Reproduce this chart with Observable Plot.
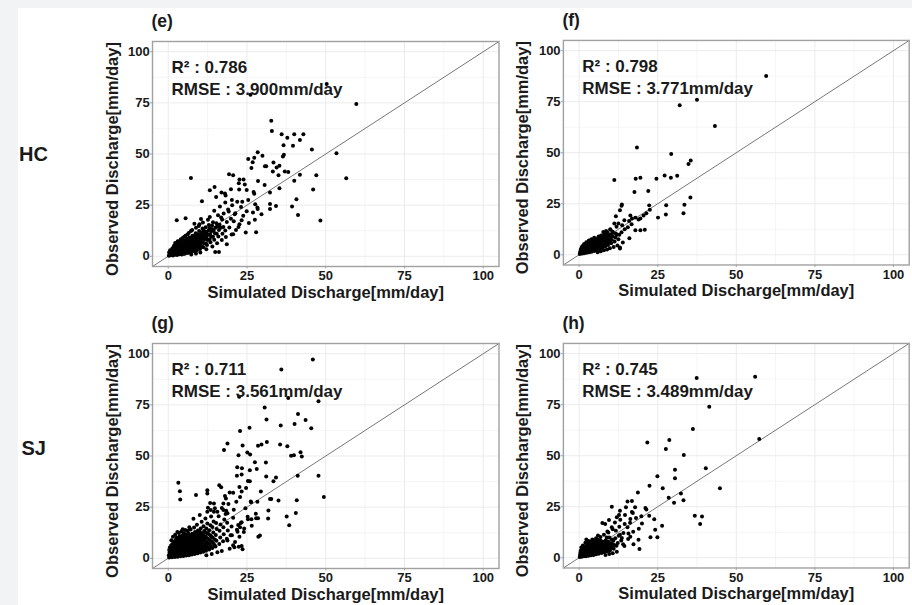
<!DOCTYPE html>
<html><head><meta charset="utf-8">
<script src="https://cdn.jsdelivr.net/npm/d3@7"></script>
<script src="https://cdn.jsdelivr.net/npm/@observablehq/plot@0.6"></script>
<style>
html,body{margin:0;padding:0;background:#fff;width:912px;height:605px;overflow:hidden;font-family:"Liberation Sans",Arial,Helvetica,sans-serif;}
#page{position:relative;width:912px;height:605px;overflow:hidden;}
.strip-top{position:absolute;left:0;top:0;width:912px;height:8px;background:#f2f3f5;}
.strip-left{position:absolute;left:0;top:0;width:18px;height:605px;background:#f2f3f5;}
.row{position:absolute;font-weight:bold;font-size:20px;line-height:20px;color:#1a1a1a;white-space:nowrap;}
.panel{position:absolute;}
.panel g[aria-label$="tick label"], .panel g[aria-label$="tick label"] text{font-size:13px !important;font-weight:700 !important;font-family:"Liberation Sans",Arial,Helvetica,sans-serif !important;}
</style></head>
<body><div id="page"><div class="strip-top"></div><div class="strip-left"></div></div>
<script>
// ---------- data ----------
const rowNames = ["HC", "SJ"];
const panelNames = ["(e)", "(f)", "(g)", "(h)"];
const r2Values = ["0.786", "0.798", "0.711", "0.745"];
const rmseValues = ["3.900", "3.771", "3.561", "3.489"];
const xTitle = "Simulated Discharge[mm/day]";
const yTitle = "Observed Discharge[mm/day]";
const axisLimits = [-5, 105];
const majorTicks = [0, 25, 50, 75, 100];
const minorTicks = [12.5, 37.5, 62.5, 87.5];

// [simulated, observed] (mm/day)
const ePoints = [
[0.2,0.3],[0.4,1.1],[0.3,2.0],[0.6,3.0],[0.8,0.5],[1.0,1.6],[1.1,2.6],[1.3,3.8],[1.5,0.4],[1.6,1.2],[1.8,2.2],[1.7,4.6],[2.1,0.8],[2.2,1.8],[2.4,3.0],[2.3,4.2],[2.5,5.6],[2.8,0.6],[2.9,1.5],[3.0,2.6],[3.2,3.6],[3.1,4.9],[3.3,6.2],[3.6,1.0],[3.7,2.1],[3.8,3.2],[3.9,4.4],[4.0,5.5],[4.1,6.8],[4.3,0.9],[4.5,1.8],[4.6,2.9],[4.7,4.0],[4.8,5.2],[4.9,6.4],[5.0,7.6],[5.3,1.3],[5.4,2.4],[5.5,3.5],[5.6,4.7],[5.7,5.9],[5.8,7.1],[5.9,8.5],[6.2,1.6],[6.3,2.8],[6.4,4.0],[6.5,5.3],[6.6,6.5],[6.7,7.8],[6.8,9.2],[7.1,2.0],[7.2,3.3],[7.3,4.6],[7.4,5.8],[7.5,7.1],[7.6,8.4],[7.7,10.0],[8.1,2.4],[8.2,3.8],[8.3,5.2],[8.4,6.6],[8.5,8.0],[8.6,9.4],[8.7,11.2],[9.1,3.0],[9.2,4.5],[9.3,6.0],[9.4,7.5],[9.5,9.0],[9.6,10.6],[9.8,12.3],[10.1,3.6],[10.3,5.2],[10.4,6.8],[10.5,8.5],[10.6,10.2],[10.8,11.8],[10.9,13.6],[11.2,4.4],[11.4,6.4],[11.5,8.3],[11.6,10.1],[11.8,12.0],[11.9,14.2],[12.3,5.5],[12.5,7.9],[12.6,10.4],[12.8,12.7],[12.9,15.3],[13.4,6.8],[13.6,9.6],[13.8,12.3],[13.9,15.0],[14.2,16.6],[14.6,8.1],[14.8,11.2],[15.0,13.9],[15.3,16.2],[15.9,9.7],[16.1,12.8],[16.3,15.4],[17.2,11.0],[17.5,14.3],[18.1,12.6],[18.6,16.8],[19.4,14.1],[19.9,18.3],[16.8,18.9],[13.2,19.2],[11.0,16.5],[12.1,3.4],[10.2,1.8],[8.8,1.3],[7.3,0.9],[14.0,4.8],[15.5,6.4],[17.0,7.9],[18.3,9.4],[20.1,10.7],[21.5,12.9],[22.6,15.6],[20.8,17.1],[23.8,19.8],[24.9,22.0],[21.3,21.0],[19.0,22.9],[17.6,20.9],[25.6,16.3],[26.9,21.4],[28.4,23.1],[27.5,17.9],[29.6,20.5],[23.1,24.1],[16.4,24.3],[14.6,22.2],[18.1,26.3],[20.3,25.0],[12.6,17.8],[9.7,14.8],[7.2,12.4],[6.1,10.7],[5.1,9.6],[4.0,8.3],[3.0,7.4],[2.2,6.5],[8.3,15.9],[10.4,18.2],[13.9,13.2],[17.1,18.0],[15.8,20.0],
[0.7,1.9],[1.2,0.9],[1.4,3.1],[2.0,2.5],[2.6,1.2],[2.7,3.6],[3.4,2.9],[3.5,4.2],[3.4,1.6],[4.2,2.3],[4.4,3.5],[4.4,4.8],[4.5,6.1],[5.0,1.2],[5.1,3.0],[5.2,4.1],[5.3,5.4],[5.4,6.6],[5.9,2.0],[6.0,3.2],[6.1,4.4],[6.1,5.7],[6.2,7.0],[6.3,8.3],[6.8,2.5],[6.9,3.8],[7.0,5.0],[7.0,6.2],[7.1,7.6],[7.2,8.9],[7.7,3.0],[7.8,4.2],[7.9,5.5],[8.0,6.9],[8.1,8.3],[8.2,9.7],[8.6,3.3],[8.8,4.8],[8.9,6.3],[9.0,7.8],[9.1,9.3],[9.0,10.9],[9.7,4.0],[9.9,5.6],[10.0,7.2],[10.1,8.9],[10.2,10.6],[10.7,4.8],[10.9,6.9],[11.0,8.8],[11.1,10.7],[11.3,12.5],[12.0,6.3],[12.1,9.0],[12.2,11.4],[13.1,8.2],[13.3,10.9],[13.2,13.8],[14.2,9.6],[14.4,12.6],[15.4,11.0],[15.6,14.6],[16.7,13.9],[1.9,5.3],[2.9,6.9],[3.8,7.7],[4.6,8.9],[5.5,10.0],[6.5,11.4],[7.6,12.9],[8.8,13.9],[9.9,15.7],
[59.7,74.4],[32.7,66.2],[32.9,61.3],[36.0,59.6],[40.0,59.6],[42.9,59.6],[37.8,57.9],[41.8,56.8],[36.6,54.3],[39.6,54.0],[45.6,52.2],[53.4,50.4],[28.4,50.9],[36.7,49.6],[36.4,48.8],[29.9,49.1],[25.4,47.6],[27.3,48.2],[26.8,46.0],[26.4,43.1],[30.7,44.0],[31.1,44.0],[33.4,45.9],[34.4,43.4],[35.3,44.3],[33.2,41.4],[37.0,41.5],[38.1,41.2],[40.0,36.9],[41.8,39.8],[47.0,39.6],[56.5,38.2],[35.0,39.6],[7.2,38.3],[19.3,40.1],[20.6,39.6],[22.6,37.5],[23.9,37.5],[22.4,35.7],[24.3,35.1],[28.5,36.8],[30.6,34.9],[35.3,33.3],[46.0,32.6],[32.3,31.2],[27.1,31.4],[27.3,30.6],[14.7,33.9],[13.2,32.3],[16.9,31.2],[18.0,30.7],[19.9,32.8],[22.5,32.6],[24.9,32.4],[10.7,26.9],[15.2,29.0],[18.2,29.7],[20.2,27.5],[21.9,26.7],[23.5,26.7],[25.4,27.5],[40.7,27.9],[32.3,25.6],[34.2,24.6],[39.3,24.3],[27.6,25.4],[28.3,23.9],[32.3,23.1],[41.2,20.2],[48.3,17.5],[27.9,11.7],[2.7,17.6],[5.5,18.6],[18.6,5.9],[16.1,2.1],[14.9,2.1],[20.6,10.8],[24.6,11.6],[22.3,14.3],[23.3,17.6],[19.2,21.9],[21.1,20.6],[26.1,79.0],[50.3,84.2]
];
const fPoints = [
[0.2,0.4],[0.3,1.3],[0.5,2.3],[0.7,3.2],[0.9,0.6],[1.0,1.6],[1.2,2.6],[1.3,3.7],[1.4,4.6],[1.6,0.8],[1.7,1.9],[1.9,2.9],[2.0,4.0],[2.1,5.1],[2.4,1.0],[2.5,2.0],[2.6,3.1],[2.7,4.2],[2.9,5.4],[3.0,6.3],[3.2,1.2],[3.3,2.3],[3.4,3.4],[3.5,4.5],[3.6,5.7],[3.7,6.8],[4.0,1.5],[4.1,2.6],[4.2,3.7],[4.3,4.8],[4.4,6.0],[4.5,7.2],[4.8,1.9],[4.9,3.0],[5.0,4.1],[5.1,5.3],[5.2,6.5],[5.3,7.7],[5.6,2.3],[5.7,3.4],[5.8,4.6],[5.9,5.8],[6.0,7.0],[6.1,8.2],[6.5,2.8],[6.6,4.0],[6.7,5.2],[6.8,6.4],[6.9,7.6],[7.4,3.3],[7.5,4.6],[7.6,5.9],[7.7,7.2],[7.8,8.6],[8.3,4.1],[8.4,5.5],[8.5,6.9],[8.6,8.4],[8.8,9.8],[9.2,4.8],[9.4,6.4],[9.5,8.0],[9.7,9.6],[10.2,5.6],[10.4,7.3],[10.6,9.1],[10.8,10.8],[11.3,6.5],[11.5,8.5],[11.7,10.4],[12.2,4.5],[12.5,7.6],[13.0,3.1],[12.8,9.8],[11.0,3.8],[9.8,3.2],[8.9,2.6],[7.9,2.2],[6.9,1.7],[5.9,1.2],[9.0,11.0],[10.0,12.2],[8.0,10.3],[7.0,9.4],[6.2,9.0],[13.5,11.0],[14.5,12.5],[15.5,13.5],[16.7,15.0],[13.9,6.0],
[0.6,1.8],[1.1,1.1],[1.3,2.2],[1.5,3.3],[2.0,1.5],[2.2,2.5],[2.3,3.5],[2.4,4.7],[2.8,1.5],[3.0,2.8],[3.1,3.9],[3.2,5.0],[3.6,1.8],[3.8,3.0],[3.9,4.1],[4.0,5.2],[4.0,6.4],[4.5,2.3],[4.6,3.4],[4.7,4.5],[4.8,5.7],[4.8,6.8],[5.3,2.6],[5.4,3.8],[5.5,5.0],[5.6,6.2],[5.6,7.3],[6.2,3.1],[6.3,4.3],[6.3,5.5],[6.4,6.8],[6.5,8.0],[7.0,3.8],[7.1,5.1],[7.2,6.4],[7.3,7.8],[7.9,4.7],[8.0,6.1],[8.1,7.6],[8.2,9.0],[8.9,5.7],[9.0,7.2],[9.1,8.8],[9.8,6.8],[10.0,8.4],[10.1,10.1],[1.0,4.2],[1.6,5.3],[2.3,6.1],[3.1,7.0],[3.9,7.6],[4.8,8.3],
[59.5,87.6],[37.5,75.9],[32.0,73.3],[43.2,63.1],[18.4,52.6],[29.3,49.4],[35.5,46.2],[34.8,44.5],[11.2,36.6],[18.0,37.2],[19.5,37.7],[24.6,37.2],[27.2,38.8],[29.2,37.7],[31.2,38.7],[17.6,30.7],[22.0,31.2],[35.4,28.1],[11.7,18.9],[13.0,21.8],[13.5,24.0],[13.6,24.6],[22.3,24.2],[22.5,22.1],[27.7,24.3],[33.5,24.5],[33.2,20.3],[27.6,19.7],[25.1,18.2],[20.5,19.2],[19.5,17.8],[18.9,17.3],[16.3,19.3],[16.8,17.8],[15.9,16.5],[17.9,18.2],[14.4,16.9],[21.4,20.3],[17.9,12.0],[19.5,12.0],[20.9,12.3],[16.0,8.1],[13.0,3.6],[11.9,9.7],[10.7,11.3],[13.7,14.5],[12.5,15.3],[11.9,13.7],[9.9,12.5],[8.6,11.7],[7.7,11.2],[11.2,15.3]
];
const gPoints = [
[0.3,0.4],[0.2,1.5],[0.4,2.7],[0.3,4.0],[0.5,5.3],[1.2,0.5],[1.1,1.8],[1.3,3.1],[1.2,4.4],[1.4,5.8],[1.3,7.0],[2.1,0.6],[2.0,2.0],[2.2,3.4],[2.1,4.8],[2.3,6.2],[2.2,7.6],[2.4,9.0],[3.0,0.8],[3.1,2.2],[2.9,3.6],[3.2,5.0],[3.0,6.5],[3.3,7.9],[3.1,9.5],[3.9,1.0],[4.0,2.4],[3.8,3.9],[4.1,5.4],[3.9,6.8],[4.2,8.3],[4.0,10.0],[4.8,1.1],[4.9,2.6],[4.7,4.1],[5.0,5.6],[4.8,7.2],[5.1,8.7],[4.9,10.4],[5.0,12.2],[5.7,1.3],[5.8,2.9],[5.6,4.4],[5.9,6.0],[5.7,7.6],[6.0,9.2],[5.8,10.9],[6.6,1.5],[6.7,3.1],[6.5,4.7],[6.8,6.3],[6.6,8.0],[6.9,9.7],[6.7,11.5],[7.5,1.8],[7.6,3.4],[7.4,5.0],[7.7,6.7],[7.5,8.4],[7.8,10.1],[7.6,12.0],[8.4,2.1],[8.5,3.8],[8.3,5.5],[8.6,7.2],[8.4,9.0],[8.7,10.8],[8.5,12.8],[9.3,2.4],[9.4,4.2],[9.2,6.0],[9.5,7.8],[9.3,9.6],[9.6,11.5],[9.4,13.6],[10.2,2.8],[10.3,4.7],[10.1,6.6],[10.4,8.5],[10.2,10.4],[10.5,12.3],[10.3,14.5],[11.1,3.2],[11.2,5.2],[11.0,7.2],[11.3,9.2],[11.1,11.2],[11.4,13.3],[11.2,15.6],[12.0,3.7],[12.1,5.8],[12.2,8.0],[12.0,10.1],[12.3,12.3],[12.1,14.6],[12.4,17.0],[13.0,4.3],[13.2,6.6],[13.1,9.0],[13.3,11.3],[13.0,13.7],[13.4,16.2],[14.0,5.0],[14.2,7.5],[14.1,10.1],[14.3,12.6],[14.0,15.3],[14.4,18.0],[15.0,5.8],[15.3,8.6],[15.1,11.4],[15.4,14.3],[15.2,17.2],[16.2,7.0],[16.5,10.2],[16.3,13.4],[16.6,16.5],[17.4,8.3],[17.6,11.8],[17.5,15.2],[17.8,18.9],[18.6,9.6],[18.9,13.6],[18.7,17.4],[19.8,11.2],[20.1,15.5],[16.0,20.5],[18.2,21.7],[20.6,19.8],[19.5,4.6],[17.0,3.6],[15.6,2.9],[13.8,2.1],[12.1,1.5],[21.2,8.0],[22.6,10.5],[24.0,12.8],[21.8,13.9],[23.3,17.6],[25.2,20.3],[26.5,15.9],[27.8,21.8],[20.8,23.7],[19.1,26.5],[17.0,24.6],[15.6,22.8],[13.6,20.4],[11.8,19.5],[10.6,17.9],[9.1,16.4],[8.2,15.0],[7.1,14.1],[6.2,13.4],[4.6,14.2],[2.9,12.8],[10.0,21.2],[12.6,24.7],[8.0,19.3],[24.5,24.4],[26.2,27.8],[18.0,30.5],[13.3,27.0],
[0.7,1.0],[0.8,2.2],[0.7,3.4],[0.8,4.6],[0.9,6.2],[1.6,1.2],[1.7,2.6],[1.6,3.8],[1.8,5.2],[1.7,6.5],[1.9,8.2],[2.5,1.3],[2.6,2.8],[2.5,4.2],[2.7,5.6],[2.6,7.0],[2.8,8.4],[2.7,10.2],[3.5,1.6],[3.5,3.0],[3.4,4.4],[3.6,5.9],[3.5,7.3],[3.7,8.8],[3.6,10.8],[4.4,1.8],[4.4,3.3],[4.3,4.8],[4.5,6.3],[4.4,7.8],[4.6,9.4],[4.5,11.3],[5.3,1.9],[5.3,3.5],[5.2,5.0],[5.4,6.6],[5.3,8.1],[5.5,9.8],[5.4,11.6],[6.2,2.2],[6.2,3.8],[6.1,5.4],[6.3,7.0],[6.2,8.6],[6.4,10.3],[6.3,12.2],[7.1,2.6],[7.1,4.2],[7.0,5.8],[7.2,7.5],[7.1,9.1],[7.3,10.9],[8.0,2.9],[8.0,4.6],[7.9,6.3],[8.1,8.0],[8.0,9.7],[8.2,11.6],[8.9,3.2],[8.9,5.0],[8.8,6.8],[9.0,8.6],[8.9,10.4],[9.1,12.2],[9.8,3.6],[9.8,5.5],[9.7,7.3],[9.9,9.2],[9.8,11.0],[10.0,13.0],[10.7,4.0],[10.8,6.0],[10.6,7.9],[10.8,9.9],[10.7,11.9],[11.6,4.6],[11.7,6.6],[11.5,8.6],[11.8,10.7],[11.6,12.8],[12.6,5.2],[12.7,7.3],[12.6,9.6],[12.8,11.9],[13.6,5.8],[13.7,8.3],[13.6,10.8],[14.7,6.5],[14.8,9.2],[1.0,8.8],[1.5,10.5],[2.2,11.5],[3.4,12.3],[4.2,13.2],[5.4,13.8],[6.7,15.2],
[45.9,97.2],[35.9,92.3],[47.7,76.8],[38.1,78.4],[22.5,79.0],[30.6,73.7],[31.2,67.9],[41.2,70.5],[43.6,67.6],[40.1,65.6],[45.4,63.6],[35.7,64.9],[25.8,63.8],[22.8,62.2],[18.8,56.1],[17.7,52.9],[23.6,55.1],[28.5,55.0],[29.6,55.6],[31.3,56.9],[35.5,55.6],[37.8,54.8],[25.1,51.7],[26.0,50.7],[22.3,50.4],[27.5,47.0],[31.0,46.8],[39.0,50.1],[39.9,50.4],[42.0,51.8],[42.4,49.7],[47.7,40.3],[41.1,40.3],[49.4,29.9],[21.9,44.5],[23.4,44.0],[21.8,40.3],[23.3,40.9],[25.9,43.0],[28.1,43.6],[25.9,37.7],[25.3,37.8],[34.2,39.5],[33.4,37.7],[31.1,40.0],[29.4,32.7],[32.3,29.0],[32.7,29.0],[35.0,28.3],[40.8,28.4],[28.3,27.6],[26.3,27.4],[24.7,34.4],[22.6,34.8],[23.3,32.7],[22.8,30.0],[19.5,32.1],[20.6,32.0],[18.3,29.2],[21.6,27.6],[3.2,36.9],[3.7,32.8],[3.8,28.7],[8.8,30.9],[12.4,33.2],[12.4,31.7],[16.2,35.7],[16.8,34.7],[14.5,26.8],[14.8,24.4],[14.5,22.8],[13.5,23.6],[12.4,22.8],[17.5,26.8],[17.5,23.6],[18.4,23.2],[18.8,22.0],[31.8,23.4],[28.5,19.6],[27.9,19.6],[26.4,19.1],[25.3,19.1],[23.0,17.3],[22.8,15.2],[24.1,14.6],[37.6,20.4],[38.4,16.2],[40.5,22.1],[31.7,19.4],[28.6,10.5],[29.1,11.1],[20.6,6.4],[21.0,5.4],[22.4,5.6],[23.3,6.0],[23.6,4.4],[18.8,8.7],[20.2,11.3],[22.0,13.0],[22.2,16.3]
];
const hPoints = [
[0.2,0.4],[0.3,1.4],[0.4,2.5],[0.5,3.5],[0.8,0.5],[0.9,1.6],[1.0,2.7],[1.1,3.8],[1.2,4.8],[1.5,0.7],[1.6,1.8],[1.7,2.9],[1.8,4.0],[1.9,5.1],[2.2,0.8],[2.3,2.0],[2.4,3.1],[2.5,4.2],[2.6,5.4],[2.7,6.5],[3.0,1.0],[3.1,2.2],[3.2,3.3],[3.3,4.5],[3.4,5.7],[3.5,6.9],[3.8,1.2],[3.9,2.4],[4.0,3.6],[4.1,4.8],[4.2,6.0],[4.3,7.3],[4.6,1.4],[4.7,2.6],[4.8,3.9],[4.9,5.1],[5.0,6.4],[5.1,7.7],[5.4,1.7],[5.5,2.9],[5.6,4.2],[5.7,5.5],[5.8,6.8],[5.9,8.1],[6.2,2.0],[6.3,3.3],[6.4,4.6],[6.5,5.9],[6.6,7.2],[6.7,8.6],[7.1,2.3],[7.2,3.7],[7.3,5.0],[7.4,6.4],[7.5,7.8],[8.0,2.7],[8.1,4.1],[8.2,5.5],[8.3,7.0],[8.4,8.5],[8.9,3.1],[9.0,4.6],[9.1,6.2],[9.3,7.8],[9.8,3.6],[10.0,5.3],[10.2,7.0],[10.4,8.9],[11.0,4.4],[11.2,6.3],[11.5,9.6],[12.3,7.2],[12.6,10.8],[13.4,8.5],[2.0,7.4],[1.2,6.0],[3.0,8.2],[4.2,9.0],[5.4,9.6],[6.8,10.2],[7.9,11.3],[9.0,12.9],[11.7,13.3],[10.4,15.0],[12.8,15.2],[14.5,16.5],[13.1,18.6],[16.3,19.0],[18.1,19.5],[20.0,16.8],[19.0,14.2],[17.2,12.8],[15.6,9.2],[14.0,6.6],[12.0,3.0],[10.7,2.2],[9.6,1.8],[8.4,1.3],[16.8,22.4],[6.0,10.9],[8.8,9.9],[2.3,8.9],
[0.6,0.9],[0.7,2.0],[0.8,3.0],[0.9,4.2],[1.2,1.1],[1.3,2.2],[1.4,3.3],[1.5,4.4],[1.9,1.3],[2.0,2.4],[2.1,3.5],[2.2,4.6],[2.3,5.8],[2.6,1.4],[2.7,2.6],[2.8,3.7],[2.9,4.9],[3.0,6.0],[3.4,1.6],[3.5,2.8],[3.6,3.9],[3.7,5.1],[3.8,6.3],[4.2,1.8],[4.3,3.0],[4.4,4.2],[4.5,5.4],[4.6,6.7],[5.0,2.1],[5.1,3.3],[5.2,4.6],[5.3,5.8],[5.4,7.1],[5.8,2.4],[5.9,3.7],[6.0,5.0],[6.1,6.3],[6.2,7.6],[6.6,2.8],[6.7,4.1],[6.8,5.4],[6.9,6.8],[7.0,8.1],[7.5,3.2],[7.6,4.5],[7.7,5.9],[7.8,7.3],[8.5,3.5],[8.6,4.9],[8.7,6.3],[8.8,7.8],[9.4,4.0],[9.5,5.6],[9.7,7.2],[10.5,4.8],[10.7,6.5],[0.7,5.0],[1.5,5.5],[2.5,7.0],[3.6,7.8],[4.7,8.4],[5.8,9.0],
[56.0,88.7],[37.4,88.1],[41.4,74.0],[36.2,63.1],[57.3,58.2],[21.7,56.5],[28.7,57.7],[27.6,53.3],[33.3,50.3],[30.5,43.1],[30.5,38.9],[40.3,43.8],[24.9,39.9],[22.4,35.3],[44.8,34.0],[26.6,34.0],[18.7,32.0],[32.4,31.5],[28.5,29.4],[33.2,28.2],[30.2,26.9],[15.4,27.6],[16.8,27.8],[14.9,24.7],[17.8,24.7],[10.4,25.0],[21.1,24.4],[21.4,23.6],[17.1,21.9],[14.6,21.0],[12.7,21.0],[19.8,20.4],[22.3,20.6],[36.8,20.6],[39.1,20.2],[38.5,16.5],[23.9,18.9],[26.4,15.7],[24.2,13.7],[22.7,10.0],[24.9,10.0],[19.2,4.3],[16.3,10.3],[18.9,8.8],[17.3,6.6],[14.4,5.8],[15.4,14.9],[15.7,11.9],[14.1,12.1],[13.0,11.3],[13.6,9.7],[10.7,14.0],[9.3,12.4],[9.6,9.9],[7.4,17.0],[8.3,16.6],[9.5,18.5],[11.4,17.3],[12.0,19.8],[13.0,23.0],[16.2,17.1],[10.9,8.3],[11.9,5.9],[9.9,5.1]
];
const panelPoints = [ePoints, fPoints, gPoints, hPoints];

// ---------- layout ----------
const FONT = '"Liberation Sans", Arial, Helvetica, sans-serif';
const INK = "#1a1a1a";
const BOX_W = 346.5, BOX_H = 225;
const M = {left: 62, top: 36, right: 3, bottom: 40};
const boxOrigins = [[151.7, 40.7], [563.3, 39.5], [151.7, 343.3], [563.3, 342.5]];
const rowLabelPos = [[19, 143.5], [21.5, 437.8]];

function panel(points, name, r2, rmse) {
  return Plot.plot({
    width: M.left + BOX_W + M.right,
    height: M.top + BOX_H + M.bottom,
    marginLeft: M.left, marginTop: M.top, marginRight: M.right, marginBottom: M.bottom,
    x: {domain: axisLimits, axis: null},
    y: {domain: axisLimits, axis: null},
    style: {fontFamily: FONT, fontSize: "13px", fontWeight: "bold", background: "transparent", color: INK, overflow: "visible"},
    marks: [
      Plot.ruleX(minorTicks, {stroke: "#f3f3f3", strokeWidth: 0.8}),
      Plot.ruleY(minorTicks, {stroke: "#f3f3f3", strokeWidth: 0.8}),
      Plot.ruleX(majorTicks, {stroke: "#ebebeb", strokeWidth: 1}),
      Plot.ruleY(majorTicks, {stroke: "#ebebeb", strokeWidth: 1}),
      Plot.line(axisLimits.map(v => [v, v]), {stroke: "#777", strokeWidth: 1}),
      Plot.dot(points, {x: d => d[0], y: d => d[1], r: 2, fill: "#000", stroke: "none"}),
      Plot.frame({stroke: "#a0a0a0", strokeWidth: 1.4}),
      Plot.axisX(majorTicks, {anchor: "bottom", tickSize: 2.5, tickPadding: 2, stroke: "#a0a0a0", fill: INK, fontSize: 13, fontWeight: "bold", label: null}),
      Plot.axisY(majorTicks, {anchor: "left", tickSize: 2, tickPadding: 0.8, stroke: "#a0a0a0", fill: INK, fontSize: 13, fontWeight: "bold", label: null}),
      Plot.text([xTitle], {frameAnchor: "bottom", textAnchor: "middle", lineAnchor: "bottom", dy: 31, fontSize: 16.5, fontWeight: "bold", fill: INK}),
      Plot.text([yTitle], {frameAnchor: "left", textAnchor: "middle", rotate: -90, lineAnchor: "bottom", dx: -35, dy: 5, fontSize: 16.5, fontWeight: "bold", fill: INK}),
      Plot.text([name], {frameAnchor: "top-left", textAnchor: "start", lineAnchor: "bottom", dx: -1, dy: -14.4, fontSize: 17.5, fontWeight: "bold", fill: INK}),
      Plot.text([`R\u00B2 : ${r2}`], {frameAnchor: "top-left", textAnchor: "start", lineAnchor: "middle", dx: 19, dy: 26.5, fontSize: 17, fontWeight: "bold", fill: INK}),
      Plot.text([`RMSE : ${rmse}mm/day`], {frameAnchor: "top-left", textAnchor: "start", lineAnchor: "middle", dx: 19, dy: 48, fontSize: 17, fontWeight: "bold", fill: INK})
    ]
  });
}

const page = document.getElementById("page");
panelPoints.forEach((pts, i) => {
  const svg = panel(pts, panelNames[i], r2Values[i], rmseValues[i]);
  const wrap = document.createElement("div");
  wrap.className = "panel";
  wrap.style.left = (boxOrigins[i][0] - M.left) + "px";
  wrap.style.top = (boxOrigins[i][1] - M.top) + "px";
  wrap.appendChild(svg);
  page.appendChild(wrap);
});
rowNames.forEach((t, i) => {
  const d = document.createElement("div");
  d.className = "row";
  d.textContent = t;
  d.style.left = rowLabelPos[i][0] + "px";
  d.style.top = rowLabelPos[i][1] + "px";
  page.appendChild(d);
});
</script>
</body></html>
